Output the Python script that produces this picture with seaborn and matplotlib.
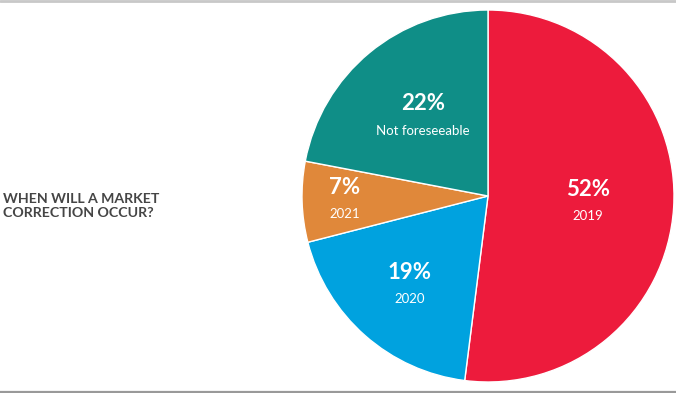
import matplotlib
matplotlib.use("Agg")
import matplotlib.pyplot as plt
import seaborn as sns
import numpy as np

# Data
labels = ["2019", "2020", "2021", "Not foreseeable"]
shares = [52, 19, 7, 22]
colors = ["#ED1B3C", "#00A2DF", "#E0883A", "#0F8E87"]
# how far out each label sits (fraction of radius)
label_r = [0.54, 0.64, 0.77, 0.55]

sns.set_theme(style="white")
plt.rcParams['font.family'] = ['Lato', 'DejaVu Sans']

W, H = 676, 393
fig = plt.figure(figsize=(W / 100, H / 100), dpi=100)

# horizontal rules top and bottom
fig.add_artist(plt.Line2D([0, 1], [1 - 1 / H, 1 - 1 / H], color="#c8c8c8", lw=2, transform=fig.transFigure))
fig.add_artist(plt.Line2D([0, 1], [1.2 / H, 1.2 / H], color="#999999", lw=1.6, transform=fig.transFigure))

# pie axes: centre (488, 196), radius 186 px
cx, cy, r = 488, 196, 186
ax = fig.add_axes([(cx - r) / W, (H - cy - r) / H, 2 * r / W, 2 * r / H])
ax.pie(shares, colors=sns.color_palette(colors), startangle=90, counterclock=False,
       wedgeprops=dict(edgecolor="white", linewidth=1))
ax.set_xlim(-1, 1)
ax.set_ylim(-1, 1)
ax.set_aspect("equal")
ax.axis("off")

cum = np.cumsum([0] + shares)
for i, (lab, s) in enumerate(zip(labels, shares)):
    mid = (cum[i] + cum[i + 1]) / 2 / 100 * 360
    ang = np.deg2rad(90 - mid)
    x, y = label_r[i] * np.cos(ang), label_r[i] * np.sin(ang)
    ax.text(x, y + 0.015, f"{s}%", ha="center", va="bottom", color="white",
            fontsize=16, fontweight="bold")
    ax.text(x, y - 0.04, lab, ha="center", va="top", color="white", fontsize=9.5)

fig.text(3 / W, 1 - 206 / H, "WHEN WILL A MARKET\nCORRECTION OCCUR?", ha="left", va="center",
         fontsize=10.2, fontweight="bold", color="#454545", linespacing=1.25)

fig.savefig("out.png", dpi=100)
